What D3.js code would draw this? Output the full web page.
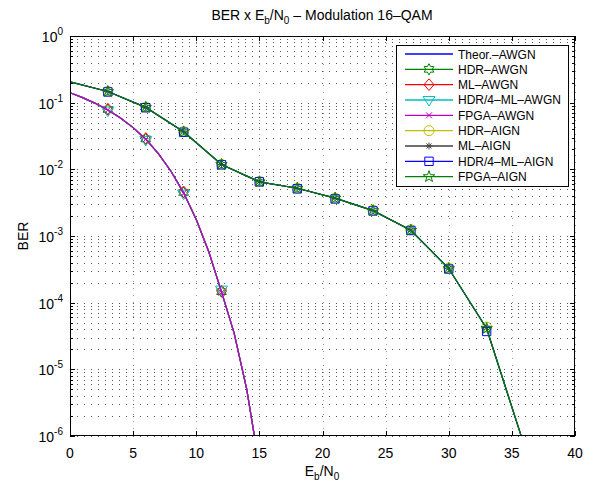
<!DOCTYPE html>
<html>
<head>
<meta charset="utf-8">
<script src="https://cdn.jsdelivr.net/npm/d3@7"></script>
<style>
    body { margin: 0; background: #fff; }
    text { font-family: "Liberation Sans", Arial, Helvetica, sans-serif; fill: #000; }
    .grid-h { stroke: #555; stroke-width: 1; stroke-dasharray: 1,6; shape-rendering: crispEdges; }
    .grid-v { stroke: #999; stroke-width: 1; stroke-dasharray: 1,6; shape-rendering: crispEdges; }
    .tick { stroke: #000; stroke-width: 1; shape-rendering: crispEdges; }
</style>
</head>
<body>
<div id="chart"></div>
<script>
// Eb/N0 (dB) axis ticks and BER decades
const xTicks = [0, 5, 10, 15, 20, 25, 30, 35, 40];
const yExponents = [0, -1, -2, -3, -4, -5, -6];

// AWGN curve (theory), sampled each dB
const ebnoAwgn = [0, 1, 2, 3, 4, 5, 6, 7, 8, 9, 10, 11, 12, 13, 14, 15];
const berAwgn = [0.141, 0.119, 0.0977, 0.0778, 0.0588, 0.0422, 0.0283, 0.0172,
    0.00936, 0.00444, 0.00177, 0.000575, 0.000145, 0.0000350, 0.0000050, 0.00000035];

// AIGN curve
const ebnoAign = [0, 3, 6, 9, 12, 15, 18, 21, 24, 27, 30, 33, 36];
const berAign = [0.205, 0.147, 0.085, 0.0365, 0.0118, 0.0065, 0.0052, 0.0037,
    0.0024, 0.00122, 0.000325, 0.000041, 0.0000007];

// marker points of the simulated series
const markAwgnX = [3, 6, 9, 12];
const hdrAwgn = [0.079, 0.0286, 0.0045, 0.000146];
const mlAwgn = [0.080, 0.0290, 0.0046, 0.000150];
const hdr4Awgn = [0.076, 0.0276, 0.0043, 0.000157];
const fpgaAwgn = [0.078, 0.0283, 0.0044, 0.000141];

const markAignX = [3, 6, 9, 12, 15, 18, 21, 24, 27, 30, 33];
const hdrAign = [0.148, 0.086, 0.0368, 0.0119, 0.0066, 0.0052, 0.0037, 0.00243, 0.00124, 0.00033, 0.000043];
const mlAign = [0.147, 0.085, 0.0366, 0.0118, 0.0065, 0.0052, 0.0037, 0.00241, 0.00123, 0.00033, 0.000042];
const hdr4Aign = [0.145, 0.084, 0.0360, 0.0117, 0.0065, 0.0051, 0.0036, 0.00238, 0.00121, 0.00032, 0.000037];
const fpgaAign = [0.147, 0.085, 0.0365, 0.0118, 0.0065, 0.0052, 0.0037, 0.0024, 0.00122, 0.000325, 0.000041];

const series = [
    { name: "Theor.\u2013AWGN", color: "#0000ff", marker: null, xs: ebnoAwgn, line: berAwgn, mx: [], my: [] },
    { name: "HDR\u2013AWGN", color: "#008000", marker: "h", xs: ebnoAwgn, line: berAwgn, mx: markAwgnX, my: hdrAwgn },
    { name: "ML\u2013AWGN", color: "#ff0000", marker: "d", xs: ebnoAwgn, line: berAwgn, mx: markAwgnX, my: mlAwgn },
    { name: "HDR/4\u2013ML\u2013AWGN", color: "#00bfbf", marker: "v", xs: ebnoAwgn, line: berAwgn, mx: markAwgnX, my: hdr4Awgn },
    { name: "FPGA\u2013AWGN", color: "#bf00bf", marker: "x", xs: ebnoAwgn, line: berAwgn, mx: markAwgnX, my: fpgaAwgn },
    { name: "HDR\u2013AIGN", color: "#bfbf00", marker: "o", xs: ebnoAign, line: berAign, mx: markAignX, my: hdrAign },
    { name: "ML\u2013AIGN", color: "#404040", marker: "*", xs: ebnoAign, line: berAign, mx: markAignX, my: mlAign },
    { name: "HDR/4\u2013ML\u2013AIGN", color: "#0000ff", marker: "s", xs: ebnoAign, line: berAign, mx: markAignX, my: hdr4Aign },
    { name: "FPGA\u2013AIGN", color: "#008000", marker: "p", xs: ebnoAign, line: berAign, mx: markAignX, my: fpgaAign }
];

const width = 598, height = 485;
const mLeft = 70, mRight = 575, mTop = 36, mBottom = 436;

const x = d3.scaleLinear().domain([0, 40]).range([mLeft, mRight]);
const y = d3.scaleLog().domain([1e-6, 1]).range([mBottom, mTop]);

const svg = d3.select("#chart").append("svg")
    .attr("width", width)
    .attr("height", height);

svg.append("defs").append("clipPath").attr("id", "plot-clip")
    .append("rect").attr("x", mLeft).attr("y", mTop)
    .attr("width", mRight - mLeft).attr("height", mBottom - mTop);

// marker shapes, roughly like matlab's
function starPath(n, outer, inner) {
    const pts = d3.range(2 * n).map(i => {
        const a = -Math.PI / 2 + i * Math.PI / n;
        const r = i % 2 ? inner : outer;
        return [r * Math.cos(a), r * Math.sin(a)];
    });
    return "M" + pts.map(p => p[0].toFixed(2) + "," + p[1].toFixed(2)).join("L") + "Z";
}

function markerPath(type) {
    switch (type) {
        case "o": return "M5,0A5,5 0 1,1 -5,0A5,5 0 1,1 5,0Z";
        case "s": return "M-4.2,-4.2H4.2V4.2H-4.2Z";
        case "d": return "M0,-5.8L5,0L0,5.8L-5,0Z";
        case "v": return "M-6,-3.5L6,-3.5L0,6Z";
        case "x": return "M-3,-3L3,3M-3,3L3,-3";
        case "*": return "M-3.5,0H3.5M0,-3.5V3.5M-2.5,-2.5L2.5,2.5M-2.5,2.5L2.5,-2.5";
        case "h": return starPath(6, 5.6, 3.2);
        case "p": return starPath(5, 6, 2.4);
    }
    return "";
}

// grid
const grid = svg.append("g");
xTicks.forEach(t => {
    grid.append("line").attr("class", "grid-v")
        .attr("x1", Math.round(x(t)) + 0.5).attr("x2", Math.round(x(t)) + 0.5)
        .attr("y1", mTop).attr("y2", mBottom);
});
const yGridVals = [];
yExponents.forEach(e => {
    for (let k = 1; k <= 9; k++) {
        const v = k * Math.pow(10, e);
        if (v >= 1e-6 && v <= 1) yGridVals.push({ v: v, major: k === 1 });
    }
});
yGridVals.forEach(g => {
    grid.append("line").attr("class", "grid-h")
        .attr("x1", mLeft).attr("x2", mRight)
        .attr("y1", Math.round(y(g.v)) + 0.5).attr("y2", Math.round(y(g.v)) + 0.5);
});

// curves
const plot = svg.append("g").attr("clip-path", "url(#plot-clip)");
const lineGen = d3.line().x(d => x(d[0])).y(d => y(d[1]));

series.forEach(s => {
    const pts = s.xs.map((v, i) => [v, s.line[i]]);
    plot.append("path")
        .attr("d", lineGen(pts))
        .attr("fill", "none")
        .attr("stroke", s.color)
        .attr("stroke-width", 1.2);
    if (s.marker) {
        s.mx.forEach((v, i) => {
            plot.append("path")
                .attr("d", markerPath(s.marker))
                .attr("transform", `translate(${x(v)},${y(s.my[i])})`)
                .attr("fill", "none")
                .attr("stroke", s.color)
                .attr("stroke-width", 1);
        });
    }
});

// axes box and ticks
const axes = svg.append("g");
axes.append("rect")
    .attr("x", mLeft + 0.5).attr("y", mTop + 0.5)
    .attr("width", mRight - mLeft - 1).attr("height", mBottom - mTop - 1)
    .attr("fill", "none").attr("stroke", "#000").attr("stroke-width", 1)
    .attr("shape-rendering", "crispEdges");

xTicks.forEach(t => {
    const px = Math.round(x(t)) + 0.5;
    axes.append("line").attr("class", "tick").attr("x1", px).attr("x2", px).attr("y1", mBottom).attr("y2", mBottom - 5);
    axes.append("line").attr("class", "tick").attr("x1", px).attr("x2", px).attr("y1", mTop).attr("y2", mTop + 5);
    axes.append("text")
        .attr("x", x(t)).attr("y", 458)
        .attr("text-anchor", "middle")
        .attr("font-size", 14)
        .text(t);
});

yGridVals.forEach(g => {
    const py = Math.round(y(g.v)) + 0.5;
    const len = g.major ? 5 : 3;
    axes.append("line").attr("class", "tick").attr("x1", mLeft).attr("x2", mLeft + len).attr("y1", py).attr("y2", py);
    axes.append("line").attr("class", "tick").attr("x1", mRight).attr("x2", mRight - len).attr("y1", py).attr("y2", py);
});

yExponents.forEach(e => {
    const t = axes.append("text")
        .attr("x", 63).attr("y", y(Math.pow(10, e)) + 6)
        .attr("text-anchor", "end")
        .attr("font-size", 14);
    t.append("tspan").text("10");
    t.append("tspan").attr("dy", -7).attr("font-size", 10).text(e === 0 ? "0" : "-" + (-e));
});

// title
const title = svg.append("text")
    .attr("x", 322).attr("y", 20)
    .attr("text-anchor", "middle")
    .attr("font-size", 14);
title.append("tspan").text("BER x E");
title.append("tspan").attr("dy", 4).attr("font-size", 10).text("b");
title.append("tspan").attr("dy", -4).text("/N");
title.append("tspan").attr("dy", 4).attr("font-size", 10).text("0");
title.append("tspan").attr("dy", -4).text(" \u2013 Modulation 16\u2013QAM");

// axis labels
const xl = svg.append("text")
    .attr("x", 322).attr("y", 476)
    .attr("text-anchor", "middle")
    .attr("font-size", 14);
xl.append("tspan").text("E");
xl.append("tspan").attr("dy", 4).attr("font-size", 10).text("b");
xl.append("tspan").attr("dy", -4).text("/N");
xl.append("tspan").attr("dy", 4).attr("font-size", 10).text("0");

svg.append("text")
    .attr("transform", "translate(28,236) rotate(-90)")
    .attr("text-anchor", "middle")
    .attr("font-size", 14)
    .text("BER");

// legend
const lg = svg.append("g");
lg.append("rect")
    .attr("x", 396.5).attr("y", 45.5).attr("width", 172).attr("height", 141)
    .attr("fill", "#fff").attr("stroke", "#000").attr("stroke-width", 1)
    .attr("shape-rendering", "crispEdges");

series.forEach((s, i) => {
    const cy = 54 + i * 15.33;
    lg.append("line")
        .attr("x1", 405).attr("x2", 453).attr("y1", cy).attr("y2", cy)
        .attr("stroke", s.color).attr("stroke-width", 1.3);
    if (s.marker) {
        lg.append("path")
            .attr("d", markerPath(s.marker))
            .attr("transform", `translate(429,${cy})`)
            .attr("fill", "none").attr("stroke", s.color).attr("stroke-width", 1);
    }
    lg.append("text")
        .attr("x", 458).attr("y", cy + 4.5)
        .attr("font-size", 12)
        .text(s.name);
});
</script>
</body>
</html>
